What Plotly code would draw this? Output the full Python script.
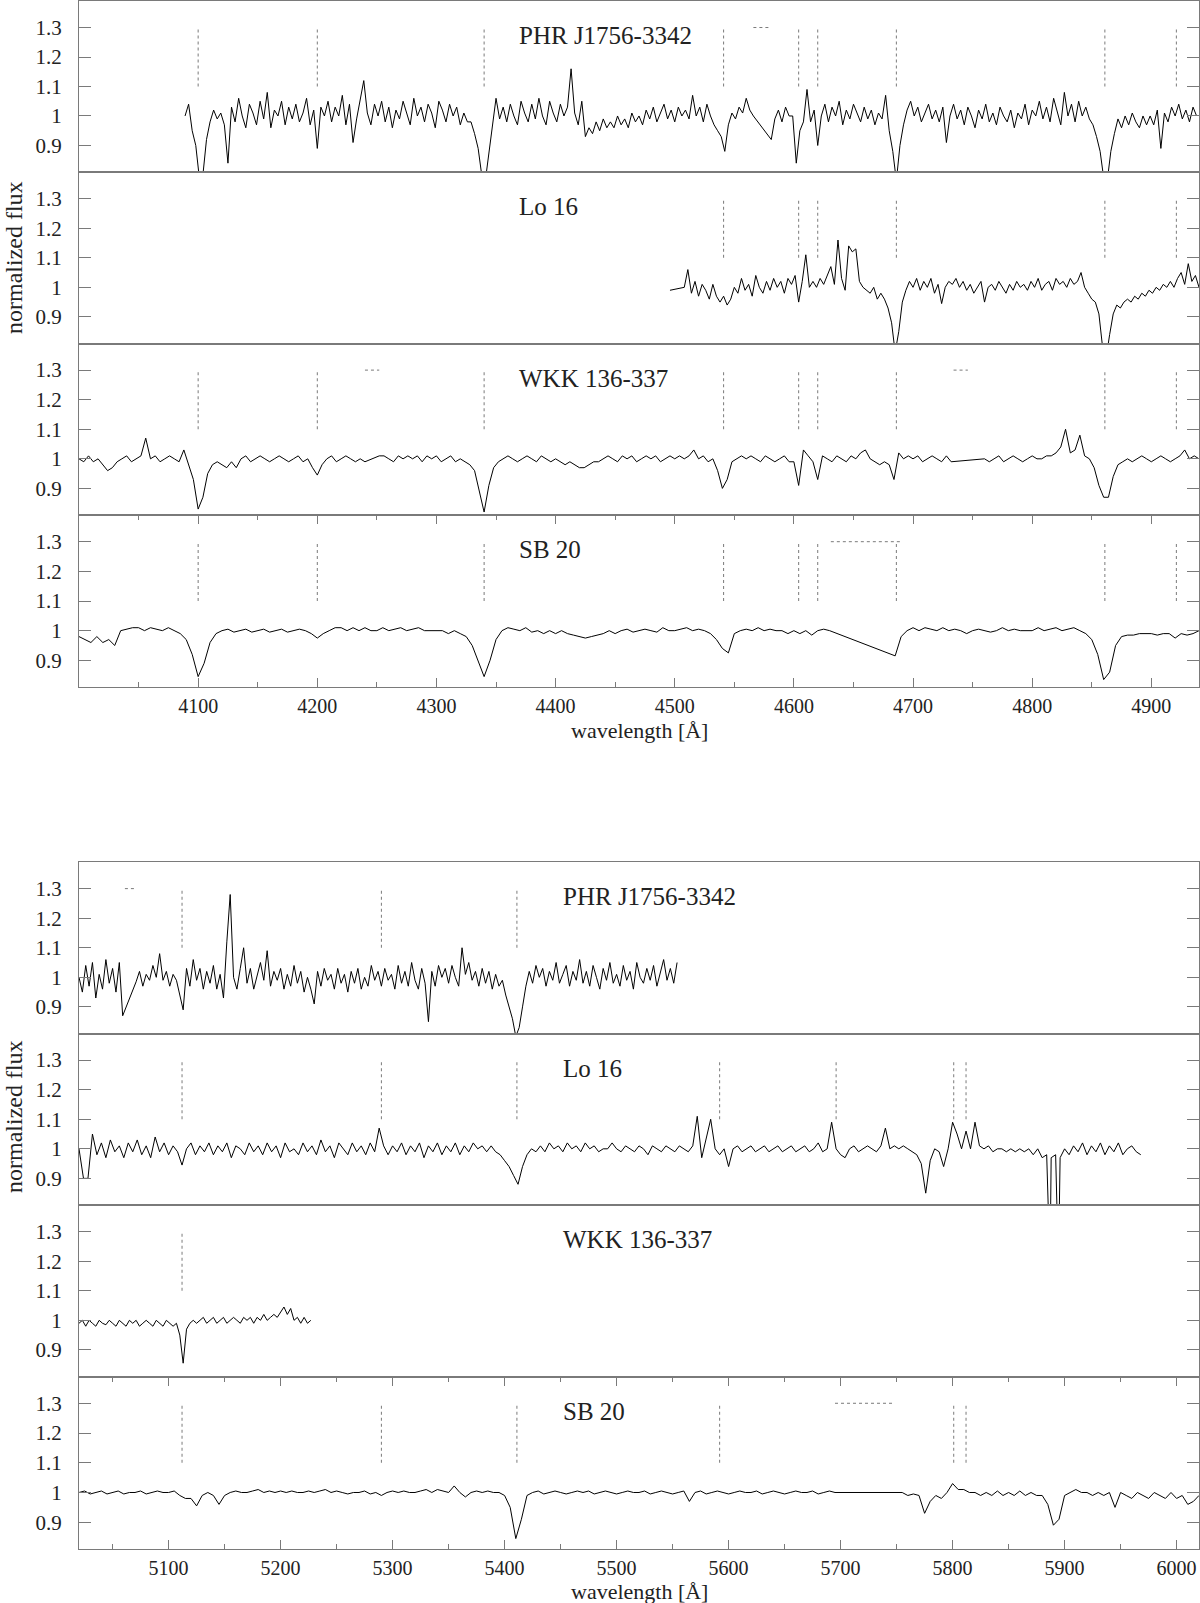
import numpy as np
import plotly.graph_objects as go

# ---------------- data: normalized flux ----------------
# blue range (4000-4940 A); flux on a regular wavelength grid, None = gap in the data

phr_blue_start, phr_blue_step = 4089, 3
phr_blue_flux = [
    1.00, 1.04, 0.95, 0.90, 0.79, 0.80, 0.92, 0.98, 1.02, 0.99,  # 4089
    1.01, 0.97, 0.84, 1.03, 0.98, 1.06, 1.00, 0.96, 1.04, 1.01,  # 4119
    0.97, 1.05, 0.99, 1.08, 0.96, 1.02, 1.00, 1.05, 0.97, 1.03,  # 4149
    0.99, 1.04, 0.98, 1.01, 1.06, 0.97, 1.02, 0.89, 1.03, 1.00,  # 4179
    1.05, 0.98, 1.03, 1.00, 1.07, 0.97, 1.04, 0.91, 0.99, 1.06,  # 4209
    1.12, 1.01, 0.97, 1.04, 1.00, 1.05, 0.98, 1.03, 0.96, 1.02,  # 4239
    0.99, 1.05, 1.01, 0.97, 1.06, 1.00, 1.03, 0.98, 1.04, 1.01,  # 4269
    0.96, 1.05, 1.02, 0.98, 1.04, 1.00, 1.03, 0.97, 1.01, 0.98,  # 4299
    0.98, 0.94, 0.89, 0.80, 0.78, 0.88, 0.96, 1.06, 0.99, 1.03,  # 4329
    0.98, 1.04, 1.00, 0.97, 1.05, 1.01, 0.98, 1.04, 0.99, 1.06,  # 4359
    1.00, 0.97, 1.05, 1.01, 0.98, 1.04, 1.00, 1.03, 1.16, 1.01,  # 4389
    0.97, 1.05, 0.93, 0.96, 0.94, 0.98, 0.95, 0.99, 0.96, 0.98,  # 4419
    0.96, 1.00, 0.97, 0.99, 0.96, 1.01, 0.98, 1.00, 0.97, 1.02,  # 4449
    0.99, 1.03, 0.98, 1.01, 1.04, 0.99, 1.02, 0.98, 1.03, 1.00,  # 4479
    1.02, 0.99, 1.07, 1.00, 1.03, 0.98, 1.04, 1.00, 0.97, 0.95,  # 4509
    0.93, 0.88, 0.97, 1.01, 0.99, 1.03, 1.01, 1.06, 1.02, 1.00,  # 4539
    None, None, None, None, 0.92, 0.99, 1.02, 0.98, 1.03, 1.00,  # 4569
    1.00, 0.84, 0.95, 0.98, 1.09, 0.98, 1.02, 0.90, 1.00, 1.04,  # 4599
    0.98, 1.03, 1.00, 1.05, 0.97, 1.02, 0.99, 1.04, 1.01, 0.98,  # 4629
    1.03, 0.99, 1.02, 0.97, 1.01, 0.99, 1.07, 0.95, 0.88, 0.78,  # 4659
    0.90, 0.97, 1.02, 1.05, 1.00, 1.03, 0.98, 1.01, 1.04, 0.99,  # 4689
    1.02, 0.98, 1.03, 0.91, 1.00, 1.04, 0.99, 1.02, 0.97, 1.03,  # 4719
    1.00, 0.96, 1.02, 0.99, 1.04, 0.98, 1.01, 0.97, 1.03, 1.00,  # 4749
    0.98, 1.02, 0.96, 1.01, 0.99, 1.04, 0.97, 1.02, 1.00, 1.05,  # 4779
    0.99, 1.03, 0.98, 1.06, 1.01, 0.97, 1.08, 1.00, 1.04, 0.98,  # 4809
    1.05, 1.00, 1.03, 0.99, 0.97, 0.93, 0.88, 0.79, 0.78, 0.88,  # 4839
    0.94, 0.99, 0.96, 1.00, 0.97, 1.01, 0.98, 0.96, 1.00, 0.97,  # 4869
    1.00, 0.97, 1.02, 0.89, 1.01, 0.98, 1.03, 1.00, 1.04, 0.99,  # 4899
    1.02, 0.98, 1.03, 1.00,                                      # 4929
]

lo16_blue_start, lo16_blue_step = 4496, 3
lo16_blue_flux = [
    0.99, None, None, None, 1.00, 1.06, 0.98, 1.02, 0.97, 1.01,  # 4496
    0.99, 0.96, 1.01, 0.97, 0.95, 0.97, 0.94, 0.96, 1.00, 0.98,  # 4526
    1.03, 0.99, 1.01, 0.97, 1.04, 1.00, 0.98, 1.02, 0.99, 1.03,  # 4556
    1.00, 1.02, 0.98, 1.03, 1.01, 1.04, 0.95, 1.02, 1.11, 1.00,  # 4586
    1.02, 1.00, 1.03, 1.01, 1.04, 1.07, 1.01, 1.16, 1.03, 0.99,  # 4616
    1.14, 1.12, 1.13, 1.02, 1.00, 0.99, 0.98, 1.00, 0.96, 0.98,  # 4646
    0.96, 0.93, 0.88, 0.78, 0.85, 0.95, 0.99, 1.02, 1.00, 1.03,  # 4676
    0.99, 1.02, 1.00, 1.03, 0.98, 1.01, 0.945, 1.00, 1.02, 1.01,  # 4706
    1.03, 1.00, 1.02, 0.99, 1.01, 0.98, 1.00, 1.02, 0.95, 1.00,  # 4736
    1.01, 0.99, 1.02, 1.00, 0.98, 1.01, 0.99, 1.02, 1.00, 1.01,  # 4766
    0.99, 1.02, 1.00, 1.03, 0.99, 1.01, 1.02, 0.99, 1.03, 1.01,  # 4796
    1.02, 1.00, 1.03, 1.01, 1.02, 1.05, 1.00, 0.98, 0.96, 0.95,  # 4826
    0.91, 0.80, 0.76, 0.84, 0.91, 0.94, 0.93, 0.95, 0.96, 0.95,  # 4856
    0.97, 0.96, 0.98, 0.97, 0.99, 0.98, 1.00, 0.99, 1.01, 1.00,  # 4886
    1.02, 1.00, 1.03, 1.05, 1.01, 1.08, 1.02, 1.04, 1.00,        # 4916
]

wkk_blue_start, wkk_blue_step = 4000, 4
wkk_blue_flux = [
    1.00, 0.99, 1.01, 0.99, 1.00, 0.98, 0.96, 0.97, 0.99, 1.00,  # 4000
    1.01, 0.99, 1.00, 1.01, 1.07, 1.00, 1.01, 0.99, 1.00, 1.01,  # 4040
    1.00, 0.99, 1.03, 0.98, 0.93, 0.83, 0.87, 0.95, 0.98, 0.99,  # 4080
    0.98, 0.97, 0.99, 0.97, 1.00, 1.01, 0.99, 1.00, 1.01, 1.00,  # 4120
    0.99, 1.00, 1.01, 1.00, 0.99, 1.00, 1.01, 0.99, 1.00, 0.97,  # 4160
    0.945, 0.98, 1.00, 1.01, 0.99, 1.00, 1.01, 1.00, 0.99, 1.00,  # 4200
    0.99, None, None, 1.01, 1.01, 1.00, 0.99, 1.01, 1.00, 1.01,  # 4240
    1.00, 1.01, 0.99, 1.01, 1.00, 1.01, 0.99, 1.00, 1.01, 0.99,  # 4280
    1.00, 0.99, 0.98, 0.96, 0.89, 0.82, 0.91, 0.97, 0.99, 1.00,  # 4320
    1.01, 1.00, 0.99, 1.00, 1.01, 1.00, 0.99, 1.01, 1.00, 0.99,  # 4360
    1.00, 0.99, 0.98, 0.99, 0.98, 0.97, 0.97, 0.98, 0.99, 0.99,  # 4400
    1.00, 1.01, 1.00, 0.99, 1.01, 1.00, 1.01, 0.99, 1.00, 1.01,  # 4440
    1.00, 1.01, 0.99, 1.00, 1.01, 1.00, 1.01, 1.00, 1.01, 1.03,  # 4480
    1.00, 1.01, 0.99, 1.00, 0.96, 0.90, 0.93, 0.99, 1.00, 1.01,  # 4520
    1.00, 1.01, 1.00, 0.99, 1.01, 1.00, 0.99, 1.00, 1.01, 0.99,  # 4560
    0.99, 0.91, 1.03, 1.01, 0.99, 0.93, 1.01, 1.00, 0.99, 1.01,  # 4600
    1.00, 0.99, 1.01, 1.00, 1.02, 1.03, 1.00, 0.99, 0.98, 0.99,  # 4640
    0.98, 0.93, 1.02, 1.00, 1.01, 1.00, 1.01, 0.99, 1.00, 1.01,  # 4680
    1.00, 0.99, 1.01, 0.99, None, None, None, None, None, None,  # 4720
    1.00, 0.99, 1.00, 1.01, 0.99, 1.00, 1.01, 1.00, 0.99, 1.00,  # 4760
    1.01, 1.00, 1.00, 1.01, 1.01, 1.02, 1.04, 1.10, 1.02, 1.03,  # 4800
    1.08, 1.01, 1.00, 0.97, 0.91, 0.87, 0.87, 0.94, 0.98, 0.99,  # 4840
    1.00, 0.99, 1.00, 1.01, 1.00, 0.99, 1.00, 1.01, 1.00, 0.99,  # 4880
    1.00, 1.01, 1.03, 1.00, 1.01, 1.00,                          # 4920
]

sb20_blue_start, sb20_blue_step = 4000, 5
sb20_blue_flux = [
    0.98, 0.97, 0.96, 0.98, 0.96, 0.97, 0.95, 1.00, 1.005, 1.01,  # 4000
    1.01, 1.00, 1.01, 1.005, 1.00, 1.01, 1.00, 0.99, 0.97, 0.92,  # 4050
    0.845, 0.89, 0.96, 0.99, 1.00, 1.005, 0.995, 1.00, 1.005, 0.995,  # 4100
    1.00, 1.005, 0.995, 1.00, 1.005, 0.995, 1.00, 1.005, 1.00, 0.99,  # 4150
    0.975, 0.99, 1.00, 1.01, 1.01, 1.00, 1.01, 1.00, 1.01, 1.00,  # 4200
    1.00, 1.01, 1.00, 1.005, 1.01, 1.00, 1.005, 1.01, 1.00, 1.00,  # 4250
    1.00, 1.00, 0.99, 1.00, 0.99, 0.98, 0.95, 0.90, 0.845, 0.90,  # 4300
    0.97, 1.00, 1.01, 1.005, 1.00, 1.01, 0.995, 1.00, 0.99, 1.00,  # 4350
    0.99, 1.00, 0.99, 0.985, 0.98, 0.975, 0.98, 0.985, 0.99, 1.00,  # 4400
    0.99, 1.00, 1.005, 0.995, 1.00, 1.005, 1.00, 0.995, 1.01, 1.00,  # 4450
    1.00, 1.005, 1.01, 1.00, 1.005, 1.00, 0.99, 0.97, 0.94, 0.925,  # 4500
    0.99, 1.00, 1.005, 1.00, 1.01, 1.00, 1.005, 1.00, 1.00, 0.99,  # 4550
    1.00, 0.99, 1.00, 0.985, 1.00, 1.005, 1.00, None, None, None,  # 4600
    None, None, None, None, None, None, None, 0.915, 0.98, 1.00,  # 4650
    1.01, 1.00, 1.01, 1.005, 1.00, 1.01, 1.00, 1.005, 1.00, 0.99,  # 4700
    1.00, 1.005, 1.00, 0.995, 1.00, 1.01, 1.00, 1.005, 1.00, 1.00,  # 4750
    1.00, 1.01, 1.00, 1.005, 1.01, 1.00, 1.005, 1.01, 1.00, 0.99,  # 4800
    0.97, 0.92, 0.835, 0.86, 0.95, 0.98, 0.985, 0.985, 0.99, 0.99,  # 4850
    0.99, 0.985, 0.99, 0.99, 0.975, 0.99, 0.985, 0.99, 1.00,      # 4900
]

# red range (5020-6020 A)
phr_red_start, phr_red_step = 5020, 3
phr_red_flux = [
    1.00, 0.95, 1.04, 0.97, 1.05, 0.93, 1.01, 0.96, 1.06, 0.98,  # 5020
    1.03, 0.95, 1.05, 0.87, None, None, None, 0.985, 1.02, 0.97,  # 5050
    1.01, 0.99, 1.04, 1.00, 1.08, 0.99, 1.02, 0.97, 1.01, 0.99,  # 5080
    0.94, 0.89, 1.03, 0.97, 1.06, 0.99, 1.03, 0.96, 1.02, 0.98,  # 5110
    1.04, 0.96, 1.01, 0.93, 1.12, 1.28, 1.00, 0.96, 1.03, 1.10,  # 5140
    0.98, 1.03, 0.96, 1.01, 1.05, 0.99, 1.09, 0.97, 1.02, 0.99,  # 5170
    1.03, 0.96, 1.01, 0.97, 1.04, 0.98, 1.02, 0.95, 1.00, 0.96,  # 5200
    0.91, 1.02, 0.97, 1.03, 0.99, 1.01, 0.96, 1.03, 0.98, 1.01,  # 5230
    0.95, 1.02, 0.98, 1.03, 0.96, 1.00, 0.97, 1.04, 0.99, 1.02,  # 5260
    0.97, 1.03, 0.99, 1.01, 0.96, 1.04, 0.98, 1.02, 0.97, 1.05,  # 5290
    0.99, 0.96, 1.03, 0.98, 0.85, 1.02, 0.97, 1.04, 1.00, 1.03,  # 5320
    0.98, 1.04, 1.00, 0.97, 1.10, 1.01, 1.05, 0.99, 1.02, 0.97,  # 5350
    1.03, 0.98, 1.02, 0.96, 1.01, 0.97, 0.99, 0.94, 0.90, 0.86,  # 5380
    0.80, 0.83, 0.90, 0.97, 1.02, 0.98, 1.04, 1.00, 1.03, 0.97,  # 5410
    1.02, 0.99, 1.05, 0.98, 1.01, 1.04, 0.97, 1.02, 0.99, 1.06,  # 5440
    0.98, 1.02, 0.97, 1.04, 1.00, 0.96, 1.03, 0.99, 1.05, 0.98,  # 5470
    1.01, 0.97, 1.04, 0.99, 1.02, 0.96, 1.05, 1.00, 0.98, 1.03,  # 5500
    0.99, 1.04, 0.97, 1.02, 1.06, 0.99, 1.03, 0.98, 1.05,        # 5530
]

lo16_red_start, lo16_red_step = 5020, 4
lo16_red_flux = [
    1.00, 0.90, 0.90, 1.05, 0.98, 1.02, 0.97, 1.03, 0.99, 1.01,  # 5020
    0.97, 1.02, 0.99, 1.03, 0.98, 1.01, 0.97, 1.04, 0.99, 1.02,  # 5060
    0.98, 1.01, 0.99, 0.945, 1.00, 1.02, 0.98, 1.01, 0.99, 1.02,  # 5100
    0.98, 1.01, 0.99, 1.02, 0.97, 1.01, 1.00, 0.98, 1.02, 0.99,  # 5140
    1.01, 0.98, 1.02, 0.99, 1.01, 0.97, 1.02, 0.99, 1.00, 0.98,  # 5180
    1.02, 0.99, 1.01, 0.98, 1.03, 0.99, 1.01, 0.97, 1.02, 1.00,  # 5220
    0.98, 1.02, 0.99, 1.01, 0.98, 1.02, 0.99, 1.07, 1.01, 0.98,  # 5260
    1.01, 0.99, 1.02, 0.98, 1.01, 0.99, 1.02, 0.97, 1.01, 0.99,  # 5300
    1.02, 0.98, 1.01, 0.99, 1.02, 0.98, 1.01, 0.99, 1.02, 1.00,  # 5340
    1.01, 0.99, 1.01, 0.99, 0.98, 0.96, 0.94, 0.91, 0.88, 0.94,  # 5380
    0.98, 1.00, 0.99, 1.01, 0.99, 1.02, 1.00, 1.01, 0.99, 1.02,  # 5420
    1.00, 1.01, 0.99, 1.02, 1.00, 1.01, 0.99, 1.00, 1.00, 1.02,  # 5460
    1.00, 0.99, 1.01, 1.00, 0.99, 1.01, 1.00, 0.98, 1.01, 1.00,  # 5500
    0.99, 1.01, 1.00, 0.99, 1.01, 1.00, 0.99, 1.01, 1.11, 0.97,  # 5540
    1.04, 1.10, 1.00, 0.98, 1.00, 0.94, 1.00, 1.01, 0.99, 1.00,  # 5580
    1.01, 0.99, 1.00, 1.01, 0.99, 1.00, 1.01, 0.99, 1.00, 1.01,  # 5620
    0.99, 1.00, 1.01, 0.99, 1.00, 1.02, 0.99, 1.00, 1.09, 1.00,  # 5660
    0.98, 0.97, 1.00, 1.01, 0.99, 1.00, 1.01, 1.00, 0.99, 1.01,  # 5700
    1.07, 1.00, 1.01, 1.00, 1.01, 1.00, 0.99, 0.98, 0.95, 0.85,  # 5740
    0.96, 1.00, 0.99, 0.94, 1.00, 1.09, 1.05, 1.00, 1.06, 1.00,  # 5780
    1.09, 1.01, 1.00, 1.01, 0.99, 1.00, 1.00, 0.99, 1.00, 0.99,  # 5820
    1.00, 0.99, 1.00, 0.98, 1.00, 0.97, 0.98, 0.97, 0.98, 0.97,  # 5860
    1.00, 0.98, 1.01, 0.99, 1.02, 0.98, 1.01, 0.99, 1.02, 0.98,  # 5900
    1.01, 0.99, 1.02, 0.98, 1.00, 1.01, 0.99, 0.98,              # 5940
]
# the two narrow Na D cores that drop far below the panel
lo16_red_core_wl = [5887.0, 5894.5]
lo16_red_core_flux = [0.60, 0.60]

wkk_red_start, wkk_red_step = 5020, 3
wkk_red_flux = [
    0.99, 1.00, 0.98, 1.00, 0.99, 0.98, 1.00, 0.99, 0.985, 1.00,  # 5020
    0.99, 0.98, 1.00, 0.99, 0.98, 1.00, 0.99, 1.00, 0.98, 0.99,  # 5050
    1.00, 0.99, 0.98, 1.00, 0.99, 0.98, 1.00, 0.99, 0.98, 0.99,  # 5080
    0.95, 0.855, 0.97, 0.99, 1.00, 0.99, 1.00, 1.01, 0.99, 1.00,  # 5110
    1.01, 0.99, 1.00, 1.01, 0.99, 1.00, 1.01, 1.00, 0.99, 1.01,  # 5140
    1.00, 1.01, 0.99, 1.01, 1.00, 1.02, 1.00, 1.01, 1.02, 1.01,  # 5170
    1.03, 1.045, 1.02, 1.04, 1.00, 1.01, 0.99, 1.01, 0.99, 1.00,  # 5200
]

sb20_red_start, sb20_red_step = 5020, 5
sb20_red_flux = [
    1.00, 1.005, 0.995, 1.00, 1.005, 0.995, 1.00, 1.005, 0.995, 1.00,  # 5020
    1.00, 1.005, 0.995, 1.00, 1.005, 1.00, 1.00, 1.005, 0.99, 0.98,  # 5070
    0.98, 0.955, 0.99, 1.00, 0.99, 0.96, 0.99, 1.00, 1.005, 1.00,  # 5120
    1.00, 1.005, 1.01, 1.00, 1.005, 1.00, 1.005, 1.00, 1.005, 1.00,  # 5170
    1.00, 1.005, 1.00, 1.005, 1.01, 1.00, 1.005, 1.00, 0.995, 1.00,  # 5220
    1.00, 1.005, 0.995, 1.00, 0.99, 1.00, 1.005, 1.00, 1.005, 1.00,  # 5270
    1.00, 1.005, 1.01, 1.00, 1.01, 1.005, 1.00, 1.022, 1.00, 0.985,  # 5320
    1.00, 1.005, 1.00, 1.005, 1.00, 1.00, 0.99, 0.95, 0.845, 0.91,  # 5370
    0.99, 1.00, 1.005, 0.995, 1.00, 1.005, 1.00, 0.995, 1.00, 1.005,  # 5420
    1.00, 1.005, 0.995, 1.00, 1.005, 1.00, 0.995, 1.00, 1.005, 1.00,  # 5470
    1.00, 1.005, 0.995, 1.00, 1.005, 1.00, 0.995, 1.00, 1.005, 0.97,  # 5520
    1.00, 1.005, 0.995, 1.00, 1.005, 1.00, 0.995, 1.00, 1.005, 1.00,  # 5570
    1.00, 1.005, 0.995, 1.00, 1.005, 1.00, 0.995, 1.00, 1.005, 1.00,  # 5620
    1.00, 1.005, 0.995, 1.00, 1.005, 1.00, None, None, None, None,  # 5670
    None, None, None, None, None, None, None, 1.00, 0.99, 0.995,  # 5720
    0.99, 0.93, 0.97, 0.99, 0.98, 1.00, 1.03, 1.01, 1.01, 1.00,  # 5770
    1.00, 0.99, 1.00, 0.99, 1.005, 0.99, 1.00, 0.99, 1.005, 0.99,  # 5820
    1.00, 0.99, 0.99, 0.96, 0.89, 0.91, 0.99, 1.00, 1.01, 1.00,  # 5870
    1.00, 0.99, 1.00, 0.99, 1.00, 0.95, 1.00, 0.99, 0.98, 1.00,  # 5920
    0.99, 0.98, 1.00, 0.99, 0.98, 1.00, 0.98, 0.99, 0.96, 0.97,  # 5970
    0.99,                                                          # 6020
]

# identified line positions (dotted markers) and gap markers (dotted bars at 1.3)
blue_lines = [4100, 4200, 4340, 4541, 4604, 4620, 4686, 4861, 4921]
lo16_blue_lines = [4541, 4604, 4620, 4686, 4861, 4921]
phr_red_lines = [5112, 5290, 5411]
lo16_red_lines = [5112, 5290, 5411, 5592, 5696, 5801, 5812]
wkk_red_lines = [5112]
sb20_red_lines = [5112, 5290, 5411, 5592, 5801, 5812]

phr_blue_gaps = [(4566, 4580)]
wkk_blue_gaps = [(4240, 4252), (4734, 4746)]
sb20_blue_gaps = [(4631, 4691)]
phr_red_gaps = [(5061, 5070)]
sb20_red_gaps = [(5695, 5746)]

blue_range = [4000, 4940]
red_range = [5020, 6020]
blue_ticks = [4100, 4200, 4300, 4400, 4500, 4600, 4700, 4800, 4900]
red_ticks = [5100, 5200, 5300, 5400, 5500, 5600, 5700, 5800, 5900, 6000]
flux_ticks = [0.9, 1, 1.1, 1.2, 1.3]
flux_labels = ["0.9", "1", "1.1", "1.2", "1.3"]


def spectrum(start, step, flux, extra_wl=(), extra_flux=()):
    wl = list(start + step * np.arange(len(flux))) + list(extra_wl)
    fx = list(flux) + list(extra_flux)
    order = np.argsort(wl)
    return [float(wl[i]) for i in order], [fx[i] for i in order]


# ---------------- layout ----------------
W, H = 1200, 1603
X0, X1 = 79, 1199
FONT = "Liberation Serif"
GREY = "#7a7a7a"
INK = "#222"

panels = [
    ("PHR J1756-3342", spectrum(phr_blue_start, phr_blue_step, phr_blue_flux), blue_range, 1, 172, blue_lines, phr_blue_gaps, False),
    ("Lo 16", spectrum(lo16_blue_start, lo16_blue_step, lo16_blue_flux), blue_range, 172, 343.5, lo16_blue_lines, [], False),
    ("WKK 136-337", spectrum(wkk_blue_start, wkk_blue_step, wkk_blue_flux), blue_range, 343.5, 515, blue_lines, wkk_blue_gaps, False),
    ("SB 20", spectrum(sb20_blue_start, sb20_blue_step, sb20_blue_flux), blue_range, 515, 687, blue_lines, sb20_blue_gaps, True),
    ("PHR J1756-3342", spectrum(phr_red_start, phr_red_step, phr_red_flux), red_range, 862, 1033.5, phr_red_lines, phr_red_gaps, False),
    ("Lo 16", spectrum(lo16_red_start, lo16_red_step, lo16_red_flux, lo16_red_core_wl, lo16_red_core_flux), red_range, 1033.5, 1205, lo16_red_lines, [], False),
    ("WKK 136-337", spectrum(wkk_red_start, wkk_red_step, wkk_red_flux), red_range, 1205, 1376.5, wkk_red_lines, [], False),
    ("SB 20", spectrum(sb20_red_start, sb20_red_step, sb20_red_flux), red_range, 1376.5, 1549, sb20_red_lines, sb20_red_gaps, True),
]

fig = go.Figure()
shapes = []
annotations = []
layout = {}

for i, (name, (wl, fx), xr, top, bot, lines, gaps, bottom_axis) in enumerate(panels):
    n = "" if i == 0 else str(i + 1)
    xid, yid = "x" + n, "y" + n
    fig.add_trace(go.Scatter(x=wl, y=fx, mode="lines", connectgaps=True,
                             line=dict(color="black", width=1),
                             xaxis=xid, yaxis=yid, showlegend=False, hoverinfo="skip"))

    xa = dict(domain=[X0 / W, X1 / W], range=xr, anchor=yid, showgrid=False, zeroline=False,
              showline=True, linecolor=GREY, linewidth=1.3, fixedrange=True)
    if bottom_axis:
        ticks = blue_ticks if xr == blue_range else red_ticks
        minors = [t - 50 for t in ticks]
        xa.update(tickvals=ticks, ticks="inside", ticklen=9, tickwidth=1.3, tickcolor=GREY,
                  mirror="ticks", ticklabelstandoff=1,
                  tickfont=dict(family=FONT, size=20, color=INK),
                  minor=dict(tickvals=minors, ticks="inside", ticklen=5, tickwidth=1.3,
                             tickcolor=GREY, showgrid=False))
    else:
        xa.update(ticks="", showticklabels=False, mirror=True)
    layout["xaxis" + n] = xa

    layout["yaxis" + n] = dict(
        domain=[1 - bot / H, 1 - top / H], range=[0.81, 1.39], anchor=xid,
        tickvals=flux_ticks, ticktext=flux_labels, ticks="inside", ticklen=12,
        tickwidth=1.3, tickcolor=GREY, showline=True, linecolor=GREY, linewidth=1.3,
        mirror="ticks", showgrid=False, zeroline=False, fixedrange=True,
        ticklabelstandoff=12, tickfont=dict(family=FONT, size=21, color=INK))

    for w in lines:
        shapes.append(dict(type="line", xref=xid, yref=yid, x0=w, x1=w, y0=1.1, y1=1.3,
                           line=dict(color=GREY, width=1, dash="dot")))
    for a, b in gaps:
        shapes.append(dict(type="line", xref=xid, yref=yid, x0=a, x1=b, y0=1.3, y1=1.3,
                           line=dict(color=GREY, width=1, dash="dot")))

    label_x = 4368 if xr == blue_range else 5450
    annotations.append(dict(text=name, xref=xid, yref=yid, x=label_x, y=1.272,
                            xanchor="left", yanchor="middle", showarrow=False,
                            font=dict(family=FONT, size=25, color=INK)))

for yc in (731, 1591):
    annotations.append(dict(text="wavelength [Å]", xref="paper", yref="paper",
                            x=(X0 + X1) / 2 / W, y=1 - yc / H, xanchor="center", yanchor="middle",
                            showarrow=False, font=dict(family=FONT, size=22, color=INK)))
for yc in (258, 1117):
    annotations.append(dict(text="normalized flux", xref="paper", yref="paper",
                            x=14 / W, y=1 - yc / H, xanchor="center", yanchor="middle",
                            textangle=-90, showarrow=False,
                            font=dict(family=FONT, size=24, color=INK)))

fig.update_layout(width=W, height=H, margin=dict(l=0, r=0, t=0, b=0),
                  paper_bgcolor="white", plot_bgcolor="white",
                  shapes=shapes, annotations=annotations, **layout)

# the page's default body margin would shift the figure by 8 px
fig.write_html("out.html", config={"displayModeBar": False},
               post_script="document.body.style.margin='0px';")
